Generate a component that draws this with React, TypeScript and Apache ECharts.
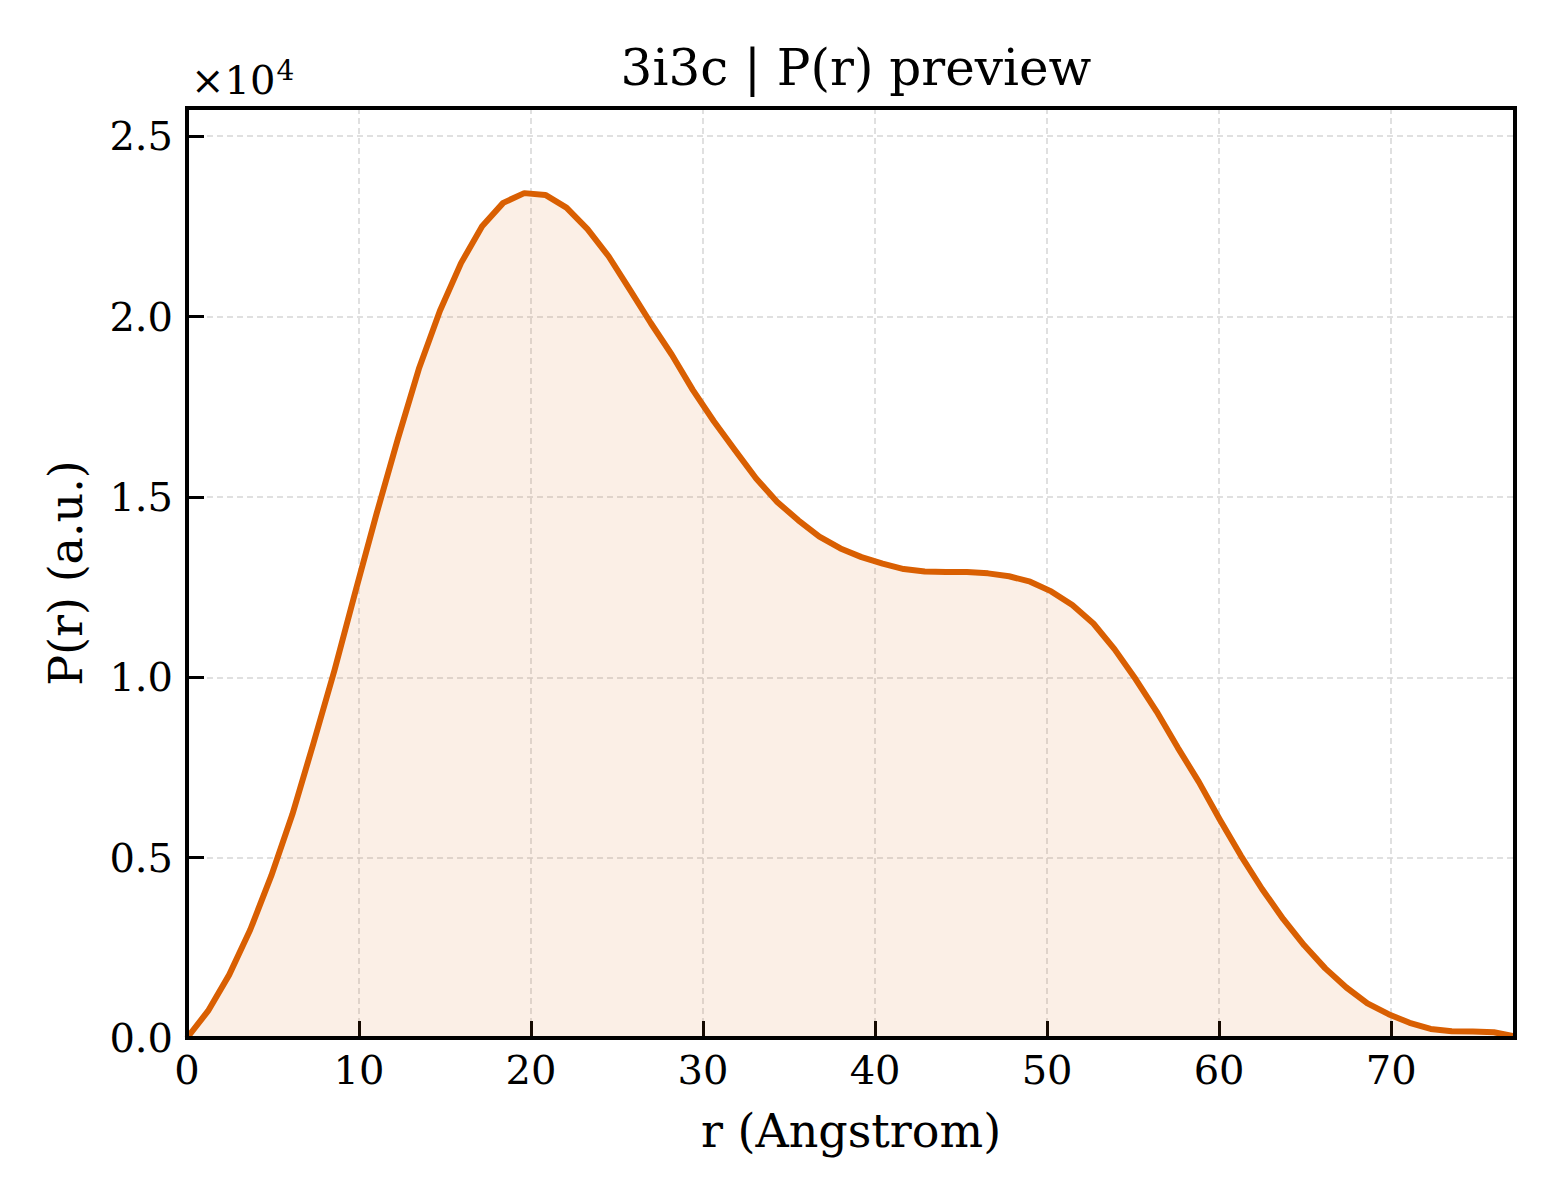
import { useEffect, useRef } from 'react';
import * as echarts from 'echarts';

const R_MAX = 77.2;
const N_POINTS = 64;
const rValues: number[] = Array.from({ length: N_POINTS }, (_, i) => +(i * R_MAX / (N_POINTS - 1)).toFixed(3));

const prValues: number[] = [
  0, 750, 1750, 3000, 4500, 6200, 8170, 10200, 12400, 14550,
  16600, 18550, 20160, 21480, 22500, 23150, 23420, 23370, 23020, 22420,
  21670, 20750, 19820, 18940, 17960, 17090, 16290, 15510, 14860, 14350,
  13900, 13570, 13330, 13150, 13000, 12930, 12920, 12920, 12880, 12800,
  12650, 12380, 12000, 11490, 10780, 9950, 9050, 8050, 7100, 6050,
  5050, 4130, 3300, 2570, 1930, 1400, 960, 660, 420, 250,
  190, 180, 160, 40,
];

const xTicks = [0, 10, 20, 30, 40, 50, 60, 70];
const yTicks = [0, 5000, 10000, 15000, 20000, 25000];

const TITLE = '3i3c | P(r) preview';
const X_NAME = 'r (Angstrom)';
const Y_NAME = 'P(r) (a.u.)';

const LINE_COLOR = '#d95f02';
const GRID_COLOR = '#d6d6d6';
const FONT = '"DejaVu Serif", serif';

// plot box in page pixels
const BOX = { left: 187, top: 108, width: 1328, height: 930 };

export default function App() {
  const ref = useRef<HTMLDivElement>(null);

  useEffect(() => {
    if (!ref.current) return;
    const chart = echarts.init(ref.current, undefined, { renderer: 'svg' });

    const data = rValues.map((r, i) => [r, prValues[i]]);

    chart.setOption({
      animation: false,
      backgroundColor: '#fff',
      title: {
        text: TITLE,
        left: 851,
        top: 38,
        textAlign: 'center',
        textStyle: { fontFamily: FONT, fontSize: 50, fontWeight: 'normal', color: '#000' },
      },
      grid: { ...BOX, show: false, containLabel: false },
      xAxis: {
        type: 'value',
        min: 0,
        max: R_MAX,
        interval: 10,
        name: X_NAME,
        nameLocation: 'middle',
        nameGap: 70,
        nameTextStyle: { fontFamily: FONT, fontSize: 46, color: '#000' },
        axisLine: { show: true, lineStyle: { color: '#000', width: 4 } },
        axisTick: { show: true, inside: true, length: 17, lineStyle: { color: '#000', width: 3 } },
        axisLabel: {
          fontFamily: FONT, fontSize: 40, color: '#000', margin: 12,
          formatter: (v: number) => (xTicks.includes(v) ? String(v) : ''),
        },
        splitLine: { show: true, lineStyle: { color: GRID_COLOR, width: 1.5, type: [6, 4] } },
      },
      yAxis: {
        type: 'value',
        min: 0,
        max: 25780,
        interval: 5000,
        name: Y_NAME,
        nameLocation: 'middle',
        nameGap: 98,
        nameTextStyle: { fontFamily: FONT, fontSize: 46, color: '#000' },
        axisLine: { show: true, lineStyle: { color: '#000', width: 4 } },
        axisTick: { show: true, inside: true, length: 17, lineStyle: { color: '#000', width: 3 } },
        axisLabel: {
          fontFamily: FONT, fontSize: 40, color: '#000', margin: 14,
          formatter: (v: number) => (yTicks.includes(v) ? (v / 10000).toFixed(1) : ''),
        },
        splitLine: { show: true, lineStyle: { color: GRID_COLOR, width: 1.5, type: [6, 4] } },
      },
      graphic: [
        {
          type: 'rect',
          z: 100,
          silent: true,
          shape: { x: BOX.left, y: BOX.top, width: BOX.width, height: BOX.height },
          style: { fill: 'none', stroke: '#000', lineWidth: 4 },
        },
        {
          type: 'text',
          left: 191,
          top: 56,
          style: {
            text: '{a|×10}{b|4}',
            rich: {
              a: { fontFamily: FONT, fontSize: 40, fill: '#000', verticalAlign: 'bottom' },
              b: { fontFamily: FONT, fontSize: 28, fill: '#000', verticalAlign: 'top', padding: [0, 0, 16, 1] },
            },
          },
        },
      ],
      series: [
        {
          type: 'line',
          data,
          symbol: 'none',
          smooth: false,
          lineStyle: { color: LINE_COLOR, width: 6, join: 'round' },
          areaStyle: { color: 'rgba(217,95,2,0.14)', origin: 'start' },
          z: 3,
        },
      ],
    });

    return () => chart.dispose();
  }, []);

  return <div ref={ref} style={{ position: 'fixed', left: 0, top: 0, width: 1560, height: 1200 }} />;
}
